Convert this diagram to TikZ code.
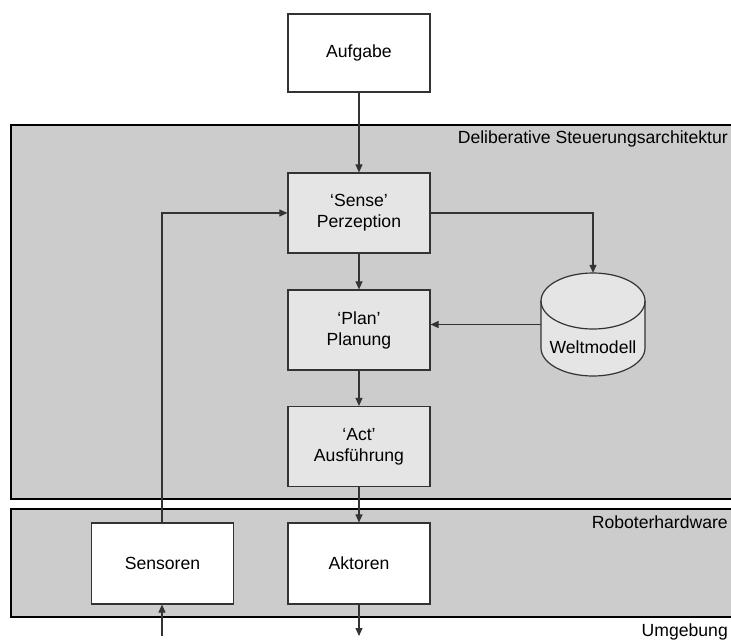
\documentclass[tikz,border=0pt]{standalone}
\usepackage{fontspec}
\setmainfont{Liberation Sans}
\usetikzlibrary{arrows.meta,positioning}
\definecolor{panelgray}{gray}{0.80}
\definecolor{boxgray}{gray}{0.90}
\definecolor{linegray}{gray}{0.20}
\begin{document}
\begin{tikzpicture}[x=1pt,y=-1pt,
  font=\fontsize{17.6}{21}\selectfont,
  panel/.style={draw=black,line width=1.1pt,fill=panelgray},
  stepbox/.style={draw=linegray,line width=1.2pt,fill=boxgray,minimum width=142pt,minimum height=80pt,align=center,inner sep=0pt},
  hwbox/.style={draw=linegray,line width=1.2pt,fill=white,minimum width=142pt,minimum height=81pt,align=center,inner sep=0pt},
  conn/.style={draw=linegray,line width=1.1pt,-{Triangle[length=8pt,width=7pt]}},
  lbl/.style={anchor=east,inner sep=0pt}]
\useasboundingbox (0,0) rectangle (731,643);
\fill[white] (0,0) rectangle (731,643);
% layer panels
\path[panel] (11,125) -- (740,125) -- (740,499) -- (11,499) -- cycle;
\path[panel] (11,509) -- (740,509) -- (740,617) -- (11,617) -- cycle;
\node[lbl] (lblctrl) at (728,139) {Deliberative Steuerungsarchitektur};
\node[lbl] (lblhw) at (728,522) {Roboterhardware};
\node[lbl] (lblenv) at (728,632) {Umgebung};
% task and control loop
\node[hwbox,minimum height=78pt] (task) at (359,53) {Aufgabe};
\node[stepbox] (sense) at (359,213) {‘Sense’\\Perzeption};
\node[stepbox] (plan) at (359,330) {‘Plan’\\Planung};
\node[stepbox] (act) at (359,446.5) {‘Act’\\Ausführung};
% hardware
\node[hwbox] (sensors) at (162.5,563.5) {Sensoren};
\node[hwbox] (actors) at (359,563.5) {Aktoren};
% world model drum
\node[minimum width=104pt,minimum height=103pt,inner sep=0pt] (world) at (593,324.5) {};
\begin{scope}[draw=linegray,line width=1.2pt]
  \filldraw[fill=boxgray] (541,301) -- (541,348) arc[start angle=180,end angle=360,x radius=52,y radius=-28] -- (645,301) arc[start angle=0,end angle=180,x radius=52,y radius=-28] -- cycle;
  \draw (541,301) arc[start angle=180,end angle=360,x radius=52,y radius=-28];
\end{scope}
\node (worldtext) at (593,347) {Weltmodell};
% connectors
\coordinate (envin) at (162,636);
\coordinate (envout) at (359,636);
\draw[conn] (task) -- (sense);
\draw[conn] (sense) -- (plan);
\draw[conn] (plan) -- (act);
\draw[conn] (act) -- (actors);
\draw[conn] (actors) -- (envout);
\draw[conn] (envin) -- (sensors.south -| envin);
\draw[conn] (sensors.north -| envin) |- (sense.west);
\draw[conn] (sense.east) -| (world.north);
\draw[conn] (world.west) -- (world.west -| plan.east);
\end{tikzpicture}
\end{document}
